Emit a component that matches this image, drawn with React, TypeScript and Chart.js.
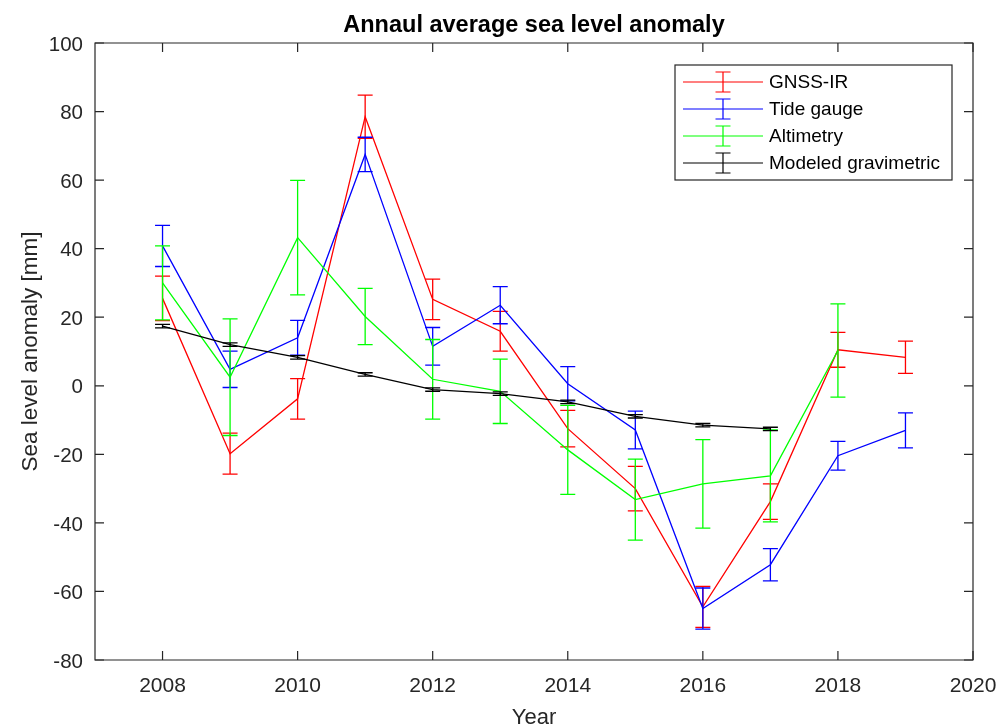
import React, { useEffect, useRef } from "react";
import { Chart, registerables } from "chart.js";

Chart.register(...registerables);

// ---- data ----
const years = [2008, 2009, 2010, 2011, 2012, 2013, 2014, 2015, 2016, 2017, 2018, 2019];

const gnssValues = [25.5, -19.8, -3.8, 78.5, 25.2, 15.9, -12.5, -30.0, -64.5, -33.8, 10.5, 8.3];
const gnssErrors = [6.5, 6.0, 5.9, 6.3, 5.9, 5.8, 5.3, 6.5, 6.0, 5.2, 5.1, 4.7];

const tideValues = [40.8, 4.8, 14.0, 67.5, 11.5, 23.5, 0.6, -12.9, -65.0, -52.2, -20.4, -13.0];
const tideErrors = [6.0, 5.3, 5.1, 5.0, 5.5, 5.4, 5.0, 5.5, 6.0, 4.7, 4.2, 5.1];

const altValues = [30.0, 2.5, 43.2, 20.2, 1.9, -1.6, -18.7, -33.2, -28.6, -26.3, 10.3];
const altErrors = [10.8, 17.0, 16.7, 8.2, 11.6, 9.4, 13.0, 11.8, 12.9, 13.4, 13.6];

const gravValues = [17.4, 12.0, 8.3, 3.3, -1.1, -2.3, -4.7, -8.9, -11.5, -12.6];
const gravErrors = [0.5, 0.5, 0.5, 0.5, 0.5, 0.5, 0.5, 0.5, 0.5, 0.5];

const seriesLabels = ["GNSS-IR", "Tide gauge", "Altimetry", "Modeled gravimetric"];
const seriesColors = ["#ff0000", "#0000ff", "#00ff00", "#000000"];

const xTickValues = [2008, 2010, 2012, 2014, 2016, 2018, 2020];
const yTickValues = [-80, -60, -40, -20, 0, 20, 40, 60, 80, 100];

const titleText = "Annaul average sea level anomaly";
const xTitle = "Year";
const yTitle = "Sea level anomaly [mm]";

const FONT = "'Liberation Sans', Arial, Helvetica, sans-serif";
const AXIS_COLOR = "#262626";
const CAP = 7.5;

const errorBarPlugin = {
  id: "errorBars",
  afterDatasetDraw(chart: any, args: any) {
    const ds = chart.data.datasets[args.index];
    const errs: number[] = ds.errors || [];
    const xs = chart.scales.x;
    const ys = chart.scales.y;
    const ctx = chart.ctx;
    ctx.save();
    ctx.strokeStyle = ds.borderColor;
    ctx.lineWidth = 1.3;
    ds.data.forEach((p: any, i: number) => {
      const e = errs[i];
      if (e == null) return;
      const px = xs.getPixelForValue(p.x);
      const yTop = ys.getPixelForValue(p.y + e);
      const yBot = ys.getPixelForValue(p.y - e);
      ctx.beginPath();
      ctx.moveTo(px, yTop);
      ctx.lineTo(px, yBot);
      ctx.moveTo(px - CAP, yTop);
      ctx.lineTo(px + CAP, yTop);
      ctx.moveTo(px - CAP, yBot);
      ctx.lineTo(px + CAP, yBot);
      ctx.stroke();
    });
    ctx.restore();
  },
};

const framePlugin = {
  id: "frame",
  afterDraw(chart: any) {
    const { ctx, chartArea } = chart;
    const { left, right, top, bottom } = chartArea;
    const xs = chart.scales.x;
    const ys = chart.scales.y;
    ctx.save();
    ctx.strokeStyle = AXIS_COLOR;
    ctx.lineWidth = 1.2;
    ctx.beginPath();
    ctx.rect(left, top, right - left, bottom - top);
    ctx.stroke();
    const tl = 9;
    ctx.beginPath();
    xTickValues.forEach((v) => {
      const px = xs.getPixelForValue(v);
      ctx.moveTo(px, bottom);
      ctx.lineTo(px, bottom - tl);
      ctx.moveTo(px, top);
      ctx.lineTo(px, top + tl);
    });
    yTickValues.forEach((v) => {
      const py = ys.getPixelForValue(v);
      ctx.moveTo(left, py);
      ctx.lineTo(left + tl, py);
      ctx.moveTo(right, py);
      ctx.lineTo(right - tl, py);
    });
    ctx.stroke();

    // legend
    const boxRight = right - 21;
    const boxLeft = boxRight - 277;
    const boxTop = top + 22;
    const boxBottom = boxTop + 115;
    ctx.fillStyle = "#ffffff";
    ctx.fillRect(boxLeft, boxTop, boxRight - boxLeft, boxBottom - boxTop);
    ctx.lineWidth = 1.2;
    ctx.strokeStyle = AXIS_COLOR;
    ctx.strokeRect(boxLeft, boxTop, boxRight - boxLeft, boxBottom - boxTop);
    ctx.font = `19px ${FONT}`;
    ctx.textBaseline = "middle";
    ctx.textAlign = "left";
    seriesLabels.forEach((label, i) => {
      const y = boxTop + 17 + i * 27;
      ctx.strokeStyle = seriesColors[i];
      ctx.beginPath();
      ctx.moveTo(boxLeft + 8, y);
      ctx.lineTo(boxLeft + 88, y);
      const gx = boxLeft + 48;
      ctx.moveTo(gx, y - 10);
      ctx.lineTo(gx, y + 10);
      ctx.moveTo(gx - CAP, y - 10);
      ctx.lineTo(gx + CAP, y - 10);
      ctx.moveTo(gx - CAP, y + 10);
      ctx.lineTo(gx + CAP, y + 10);
      ctx.stroke();
      ctx.fillStyle = "#000000";
      ctx.fillText(label, boxLeft + 94, y + 1);
    });
    ctx.restore();
  },
};

function makeSeries(values: number[], errors: number[], idx: number, order: number) {
  return {
    label: seriesLabels[idx],
    data: values.map((v, i) => ({ x: years[i], y: v })),
    errors,
    borderColor: seriesColors[idx],
    backgroundColor: seriesColors[idx],
    borderWidth: 1.3,
    pointRadius: 0,
    tension: 0,
    order,
  };
}

export default function App() {
  const canvasRef = useRef<HTMLCanvasElement | null>(null);

  useEffect(() => {
    if (!canvasRef.current) return;
    const chart = new Chart(canvasRef.current, {
      type: "line",
      data: {
        datasets: [
          makeSeries(gnssValues, gnssErrors, 0, 3),
          makeSeries(tideValues, tideErrors, 1, 2),
          makeSeries(altValues, altErrors, 2, 1),
          makeSeries(gravValues, gravErrors, 3, 0),
        ] as any,
      },
      options: {
        responsive: false,
        animation: false,
        devicePixelRatio: 1,
        layout: { padding: { left: 0, right: 35, top: 0, bottom: 0 } },
        plugins: {
          legend: { display: false },
          tooltip: { enabled: false },
          title: {
            display: true,
            text: titleText,
            fullSize: false,
            color: "#000000",
            font: { family: FONT, size: 23.5, weight: "bold", lineHeight: 1.2 },
            padding: { top: 11, bottom: 3.8 },
          },
        },
        scales: {
          x: {
            type: "linear",
            min: 2007,
            max: 2020,
            grid: { display: false },
            border: { display: false },
            afterBuildTicks: (s: any) => {
              s.ticks = xTickValues.map((v) => ({ value: v }));
            },
            afterFit: (s: any) => {
              s.height = 67;
            },
            ticks: {
              color: AXIS_COLOR,
              font: { family: FONT, size: 21 },
              padding: 6,
              maxRotation: 0,
              autoSkip: false,
              callback: (v: any) => String(v),
            },
            title: {
              display: true,
              text: xTitle,
              color: AXIS_COLOR,
              font: { family: FONT, size: 22, lineHeight: 0.85 },
              padding: { top: 0, bottom: 0 },
            },
          },
          y: {
            type: "linear",
            min: -80,
            max: 100,
            grid: { display: false },
            border: { display: false },
            afterBuildTicks: (s: any) => {
              s.ticks = yTickValues.map((v) => ({ value: v }));
            },
            afterFit: (s: any) => {
              s.width = 95;
            },
            ticks: {
              color: AXIS_COLOR,
              font: { family: FONT, size: 20.5 },
              padding: 4,
              labelOffset: 2,
              autoSkip: false,
              callback: (v: any) => String(v),
            },
            title: {
              display: true,
              text: yTitle,
              color: AXIS_COLOR,
              font: { family: FONT, size: 22.5, lineHeight: 1.2 },
              padding: { top: 17, bottom: 0 },
            },
          },
        },
      },
      plugins: [errorBarPlugin, framePlugin],
    });
    return () => chart.destroy();
  }, []);

  return (
    <div style={{ position: "absolute", left: 0, top: 0, width: 1008, height: 727, background: "#ffffff" }}>
      <canvas ref={canvasRef} width={1008} height={727} style={{ width: 1008, height: 727, display: "block" }} />
    </div>
  );
}
